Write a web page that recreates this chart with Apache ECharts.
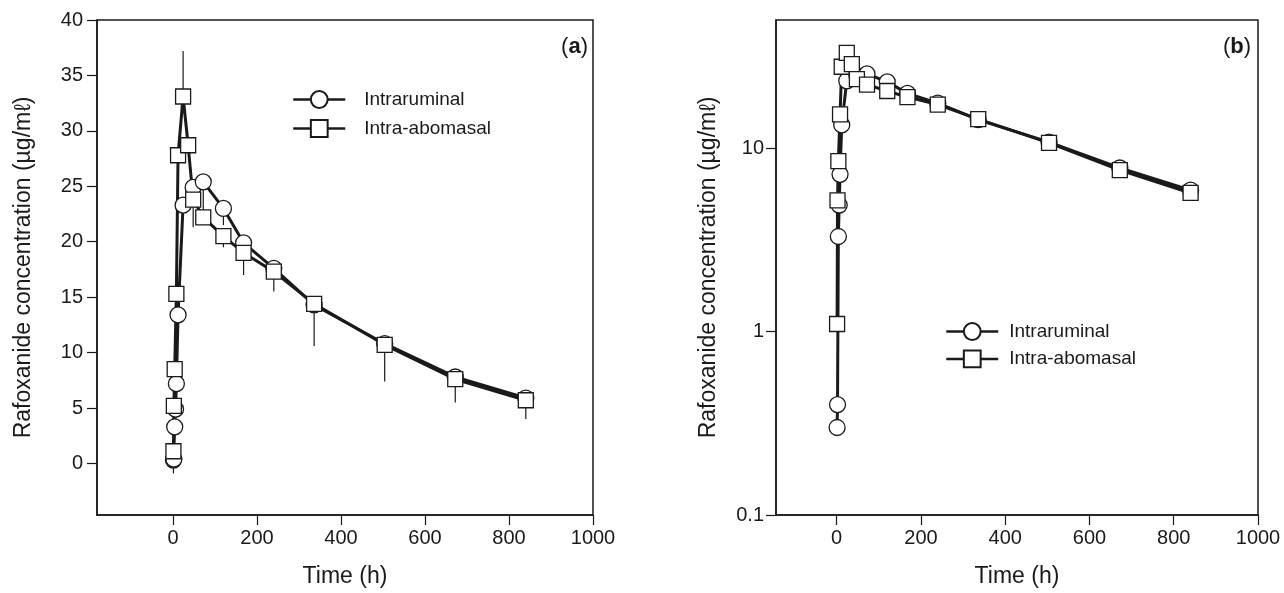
<!DOCTYPE html>
<html><head><meta charset="utf-8">
<script src="https://cdn.jsdelivr.net/npm/echarts@6/dist/echarts.min.js"></script>
<style>html,body{margin:0;padding:0;background:#fff}#c{width:1284px;height:593px}</style>
</head><body><div id="c"></div>
<script>
// ---- data ----
const seriesNames = ['Intraruminal', 'Intra-abomasal'];
const timeIR = [1, 2, 4, 6, 8, 12, 24, 48, 72, 120, 168, 240, 336, 504, 672, 840];
const concIR = [0.3, 0.4, 3.3, 4.9, 7.2, 13.4, 23.3, 24.9, 25.4, 23.0, 19.9, 17.6, 14.3, 10.8, 7.8, 5.9];
const timeIA = [1, 2, 4, 8, 12, 24, 36, 48, 72, 120, 168, 240, 336, 504, 672, 840];
const concIA = [1.1, 5.2, 8.5, 15.3, 27.8, 33.1, 28.7, 23.8, 22.2, 20.5, 19.0, 17.3, 14.4, 10.7, 7.6, 5.7];
// error bar ends (panel a)
const errTimeIA = [1, 24, 48, 120, 168, 240, 336, 504, 672, 840];
const errEndIA = [-0.9, 37.2, 21.3, 19.5, 17.0, 15.5, 10.6, 7.4, 5.5, 4.0];
const errTimeIR = [72, 120];
const errEndIR = [21.5, 21.5];
// tick labels
const xTicks = [0, 200, 400, 600, 800, 1000];
const yTicksLin = [0, 5, 10, 15, 20, 25, 30, 35, 40];

const FONT = '"Liberation Sans", Arial, Helvetica, sans-serif';
const INK = '#1a1a1a';

function pairs(t, c) { return t.map((v, i) => [v, c[i]]); }

function lineSeries(name, t, c, sym, size, gi) {
  return {
    type: 'line', name: name, xAxisIndex: gi, yAxisIndex: gi,
    data: pairs(t, c), symbol: sym, symbolSize: size, showSymbol: true,
    lineStyle: { color: INK, width: 3 },
    itemStyle: { color: '#fff', borderColor: INK, borderWidth: 1.3 },
    z: 3, animation: false
  };
}

function errSeries(times, ends, tArr, cArr) {
  return {
    type: 'custom', xAxisIndex: 0, yAxisIndex: 0, z: 1, silent: true, animation: false,
    data: times.map((t, i) => [t, cArr[tArr.indexOf(t)], ends[i]]),
    encode: { x: 0, y: [1, 2] },
    renderItem: function (params, api) {
      const p1 = api.coord([api.value(0), api.value(1)]);
      const p2 = api.coord([api.value(0), api.value(2)]);
      return { type: 'line', shape: { x1: p1[0], y1: p1[1], x2: p2[0], y2: p2[1] },
               style: { stroke: INK, lineWidth: 1.2 } };
    }
  };
}

const axisCommon = {
  axisLine: { show: true, onZero: false, lineStyle: { color: INK, width: 1.5 } },
  axisTick: { show: true, inside: false, length: 10, lineStyle: { color: INK, width: 1.2 } },
  splitLine: { show: false },
  nameTextStyle: { fontSize: 23, fontFamily: FONT, color: INK },
};

function xAxis(gi, min) {
  return Object.assign({}, axisCommon, {
    type: 'value', gridIndex: gi, min: min, max: 1000,
    name: 'Time (h)', nameLocation: 'middle', nameGap: 50,
    axisTick: Object.assign({}, axisCommon.axisTick, { customValues: xTicks }),
    axisLabel: { customValues: xTicks, fontSize: 20, fontFamily: FONT, color: INK, margin: 13,
                 formatter: v => String(v) }
  });
}

const legendCommon = {
  data: seriesNames, orient: 'vertical', itemWidth: 52, itemHeight: 21, padding: 0,
  selectedMode: false,
  lineStyle: { width: 2.5 },
  textStyle: { fontSize: 19, fontFamily: FONT, color: INK }
};

const option = {
  backgroundColor: '#fff',
  animation: false,
  grid: [
    { left: 97, top: 20, width: 496, height: 499, show: true, borderColor: INK, borderWidth: 1.5, backgroundColor: 'transparent' },
    { left: 776, top: 20, width: 482, height: 498, show: true, borderColor: INK, borderWidth: 1.5, backgroundColor: 'transparent' }
  ],
  xAxis: [xAxis(0, -181), xAxis(1, -144)],
  yAxis: [
    Object.assign({}, axisCommon, {
      type: 'value', gridIndex: 0, min: -4.65, max: 40,
      name: 'Rafoxanide concentration (µg/mℓ)', nameLocation: 'middle', nameGap: 62,
      axisTick: Object.assign({}, axisCommon.axisTick, { customValues: yTicksLin }),
      axisLabel: { customValues: yTicksLin, fontSize: 20, fontFamily: FONT, color: INK, margin: 14,
                   formatter: v => String(v) }
    }),
    Object.assign({}, axisCommon, {
      type: 'log', logBase: 10, gridIndex: 1, min: 0.1, max: 50,
      name: 'Rafoxanide concentration (µg/mℓ)', nameLocation: 'middle', nameGap: 56,
      minorTick: { show: false },
      axisLabel: { fontSize: 20, fontFamily: FONT, color: INK, margin: 12, showMaxLabel: false }
    })
  ],
  legend: [
    Object.assign({}, legendCommon, { left: 292, top: 90, itemGap: 10,
      textStyle: Object.assign({}, legendCommon.textStyle, { padding: [0, 0, 0, 14] }) }),
    Object.assign({}, legendCommon, { left: 945, top: 322, itemGap: 8.4,
      textStyle: Object.assign({}, legendCommon.textStyle, { padding: [0, 0, 0, 6] }) })
  ],
  graphic: [
    { type: 'text', right: 1284 - 588, top: 36,
      style: { text: '({b|a})', fontSize: 22, fontFamily: FONT, fill: INK,
               rich: { b: { fontWeight: 'bold', fontSize: 22, fontFamily: FONT, fill: INK } } } },
    { type: 'text', right: 1284 - 1251, top: 36,
      style: { text: '({b|b})', fontSize: 22, fontFamily: FONT, fill: INK,
               rich: { b: { fontWeight: 'bold', fontSize: 22, fontFamily: FONT, fill: INK } } } }
  ],
  series: [
    errSeries(errTimeIR, errEndIR, timeIR, concIR),
    errSeries(errTimeIA, errEndIA, timeIA, concIA),
    lineSeries(seriesNames[0], timeIR, concIR, 'circle', 16, 0),
    lineSeries(seriesNames[1], timeIA, concIA, 'rect', 15, 0),
    lineSeries(seriesNames[0], timeIR, concIR, 'circle', 16, 1),
    lineSeries(seriesNames[1], timeIA, concIA, 'rect', 15, 1)
  ]
};

const chart = echarts.init(document.getElementById('c'), null, { renderer: 'canvas' });
chart.setOption(option);
</script>
</body></html>
